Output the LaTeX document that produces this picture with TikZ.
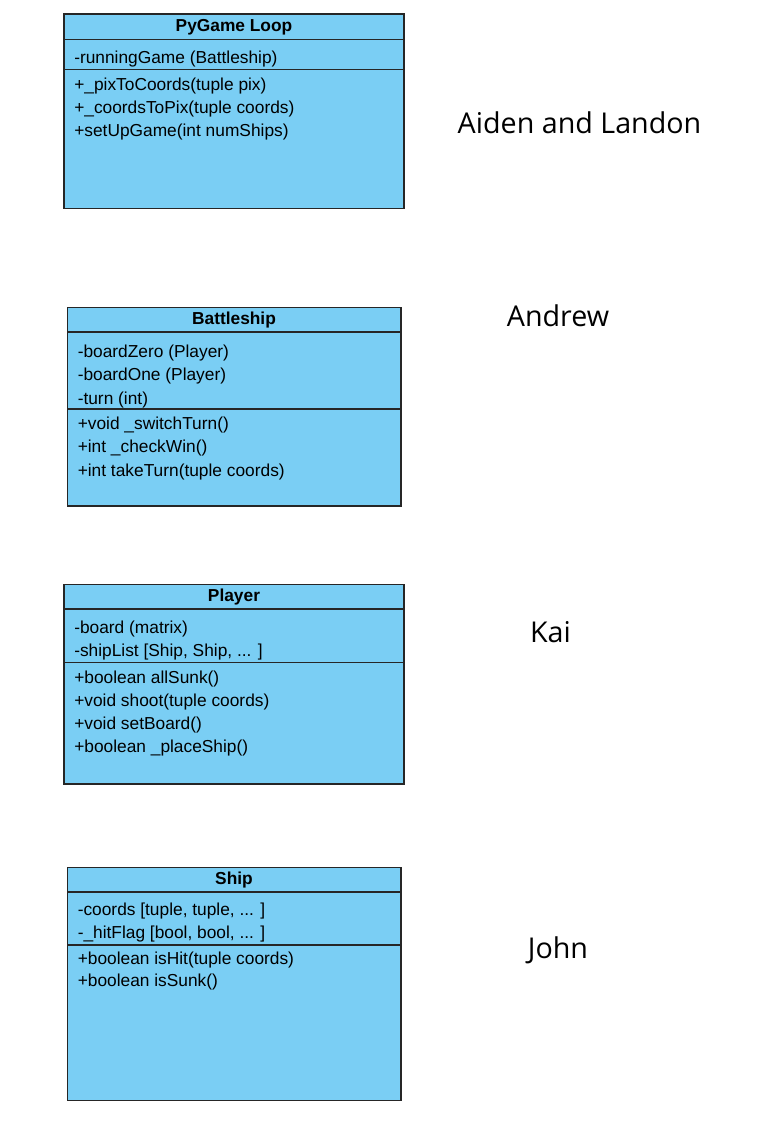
\documentclass[tikz,border=0pt]{standalone}
\usepackage{fontspec}
\setmainfont{Liberation Sans}
\newfontfamily\namefont{Open Sans}
\usetikzlibrary{fit}
\definecolor{classblue}{RGB}{122,206,244}

\begin{document}
\begin{tikzpicture}[x=0.75pt, y=-0.75pt]
		\tikzset{cls/.style={draw=black!85, fill=classblue, line width=1pt, inner sep=0pt, outer sep=0pt}};
		\tikzset{sep/.style={draw=black!85, line width=1pt}};
		\tikzset{title/.style={anchor=base, font=\fontsize{13}{15}\selectfont\bfseries, inner sep=0pt}};
		\tikzset{member/.style={anchor=base west, font=\fontsize{13}{15}\selectfont, inner sep=0pt}};
		\tikzset{who/.style={anchor=base, font=\namefont\fontsize{21.5}{26}\selectfont, inner sep=0pt}};

		\useasboundingbox (0,0) rectangle (767,1138);

		% PyGame Loop
		\node[cls, fit={(64,14) (404,208.5)}] (loop) {};
		\node[title] (looptitle) at (234,31.5) {PyGame Loop};
		\draw[sep] (loop.west |- 0,39.5) -- (loop.east |- 0,39.5);
		\draw[sep] (loop.west |- 0,69.5) -- (loop.east |- 0,69.5);
		\node[member] (loopa1) at (74,64) {-runningGame (Battleship)};
		\node[member] (loopm1) at (74,90.5) {+\_pixToCoords(tuple pix)};
		\node[member] (loopm2) at (74,113.5) {+\_coordsToPix(tuple coords)};
		\node[member] (loopm3) at (74,136.5) {+setUpGame(int numShips)};

		% Battleship
		\node[cls, fit={(67.5,307.5) (401,506)}] (game) {};
		\node[title] (gametitle) at (234,324) {Battleship};
		\draw[sep] (game.west |- 0,332) -- (game.east |- 0,332);
		\draw[sep] (game.west |- 0,409) -- (game.east |- 0,409);
		\node[member] (gamea1) at (77.5,357.5) {-boardZero (Player)};
		\node[member] (gamea2) at (77.5,380.5) {-boardOne (Player)};
		\node[member] (gamea3) at (77.5,404) {-turn (int)};
		\node[member] (gamem1) at (77.5,429) {+void \_switchTurn()};
		\node[member] (gamem2) at (77.5,452.5) {+int \_checkWin()};
		\node[member] (gamem3) at (77.5,476) {+int takeTurn(tuple coords)};

		% Player
		\node[cls, fit={(64,584.5) (404,784)}] (player) {};
		\node[title] (playertitle) at (234,601) {Player};
		\draw[sep] (player.west |- 0,609) -- (player.east |- 0,609);
		\draw[sep] (player.west |- 0,662.5) -- (player.east |- 0,662.5);
		\node[member] (playera1) at (74,633.5) {-board (matrix)};
		\node[member] (playera2) at (74,656.5) {-shipList [Ship, Ship, ... ]};
		\node[member] (playerm1) at (74,683) {+boolean allSunk()};
		\node[member] (playerm2) at (74,706) {+void shoot(tuple coords)};
		\node[member] (playerm3) at (74,729.5) {+void setBoard()};
		\node[member] (playerm4) at (74,752.5) {+boolean \_placeShip()};

		% Ship
		\node[cls, fit={(67.5,867.5) (401,1100.5)}] (ship) {};
		\node[title] (shiptitle) at (234,884) {Ship};
		\draw[sep] (ship.west |- 0,892) -- (ship.east |- 0,892);
		\draw[sep] (ship.west |- 0,945) -- (ship.east |- 0,945);
		\node[member] (shipa1) at (77.5,915) {-coords [tuple, tuple, ... ]};
		\node[member] (shipa2) at (77.5,938) {-\_hitFlag [bool, bool, ... ]};
		\node[member] (shipm1) at (77.5,964) {+boolean isHit(tuple coords)};
		\node[member] (shipm2) at (77.5,986.5) {+boolean isSunk()};

		% who writes what
		\node[who] (aiden) at (579.5,133.5) {Aiden and Landon};
		\node[who] (andrew) at (558,326.5) {Andrew};
		\node[who] (kai) at (550.5,642) {Kai};
		\node[who] (john) at (558,958) {John};

	\end{tikzpicture}
\end{document}
